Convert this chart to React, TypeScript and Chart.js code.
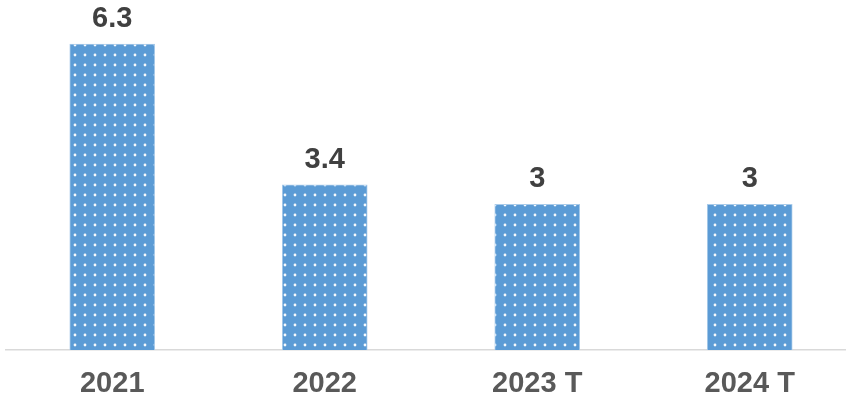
import React, { useEffect, useRef } from "react";
import { Chart, registerables } from "chart.js";

Chart.register(...registerables);

const categories = ["2021", "2022", "2023 T", "2024 T"];
const values = [6.3, 3.4, 3, 3];
const valueLabels = ["6.3", "3.4", "3", "3"];

function makePattern(): CanvasPattern | string {
  const c = document.createElement("canvas");
  c.width = 10;
  c.height = 10;
  const ctx = c.getContext("2d");
  if (!ctx) return "#5B9BD5";
  ctx.fillStyle = "#5B9BD5";
  ctx.fillRect(0, 0, 10, 10);
  ctx.fillStyle = "rgba(255,255,255,0.95)";
  ctx.beginPath();
  ctx.arc(5, 5, 1.4, 0, Math.PI * 2);
  ctx.fill();
  const p = ctx.createPattern(c, "repeat");
  return p || "#5B9BD5";
}

const valueLabelPlugin = {
  id: "valueLabels",
  afterDatasetsDraw(chart: any) {
    const ctx = chart.ctx;
    const meta = chart.getDatasetMeta(0);
    ctx.save();
    ctx.font = "bold 29px 'Liberation Sans', Arial, sans-serif";
    ctx.fillStyle = "#404040";
    ctx.textAlign = "center";
    ctx.textBaseline = "alphabetic";
    meta.data.forEach((el: any, i: number) => {
      ctx.fillText(valueLabels[i], el.x, el.y - 17);
    });
    ctx.restore();
  },
};

export default function App() {
  const ref = useRef<HTMLCanvasElement>(null);
  useEffect(() => {
    if (!ref.current) return;
    const chart = new Chart(ref.current, {
      type: "bar",
      data: {
        datasets: [
          {
            data: values.map((v, i) => ({ x: i, y: v })),
            backgroundColor: makePattern() as any,
            borderColor: "#A9CBEA",
            borderWidth: 1,
            barThickness: 85,
          },
        ],
      },
      options: {
        animation: false,
        responsive: true,
        maintainAspectRatio: false,
        layout: { padding: { top: 10, left: 6, right: 0, bottom: 0 } },
        plugins: { legend: { display: false }, tooltip: { enabled: false } },
        scales: {
          x: {
            type: "linear",
            offset: false,
            min: -0.5,
            max: 3.453,
            grid: { display: false, drawTicks: false, offset: false },
            border: { display: true, color: "#D9D9D9", width: 1.5 },
            afterBuildTicks: (scale: any) => {
              scale.ticks = categories.map((_, i) => ({ value: i }));
            },
            afterFit: (scale: any) => {
              scale.height = 52;
            },
            ticks: {
              padding: 17,
              autoSkip: false,
              maxRotation: 0,
              color: "#595959",
              font: { family: "'Liberation Sans', Arial, sans-serif", size: 29, weight: "bold" },
              callback: (v: any) => categories[Math.round(Number(v))] ?? "",
            },
          },
          y: {
            display: false,
            min: 0,
            max: 7,
          },
        },
      },
      plugins: [valueLabelPlugin],
    });
    return () => chart.destroy();
  }, []);
  return (
    <div style={{ position: "fixed", left: 0, top: 0, width: 846, height: 402 }}>
      <canvas ref={ref} />
    </div>
  );
}
